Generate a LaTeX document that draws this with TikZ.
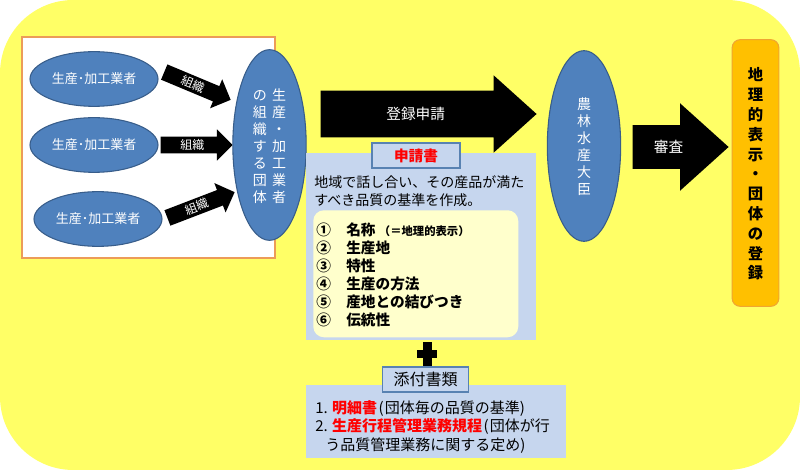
\documentclass[tikz,border=0pt]{standalone}
\usepackage{fontspec}
\setmainfont{Noto Sans CJK JP}
\usetikzlibrary{shapes.geometric,shapes.arrows}
\definecolor{backyellow}{RGB}{255,255,102}
\definecolor{framing}{RGB}{236,156,88}
\definecolor{ovalblue}{RGB}{79,129,189}
\definecolor{ovaledge}{RGB}{56,93,138}
\definecolor{paleblue}{RGB}{198,214,238}
\definecolor{labeledge}{RGB}{88,130,178}
\definecolor{paleyellow}{RGB}{255,255,204}
\definecolor{resultorange}{RGB}{255,192,0}
\definecolor{resultedge}{RGB}{240,165,50}
\newcommand{\shaft}[1]{\rule[\dimexpr 0.38em-#1/2\relax]{0pt}{#1}}
\newcommand{\lowered}[2]{\raisebox{-#1}[\height][\depth]{#2}}
\tikzset{
    oval/.style={ellipse, draw=ovaledge, thick, fill=ovalblue, text=white, inner sep=0pt, font=\fontsize{10.5}{12.75}\selectfont},
    maker/.style={oval, minimum width=96pt, minimum height=41pt, font=\fontsize{9.75}{12}\selectfont},
    tall/.style={oval, minimum width=55pt, minimum height=143pt},
    blockarrow/.style={single arrow, fill=black, text=white, inner sep=0pt, anchor=tip},
    smallarrow/.style={blockarrow, minimum height=54pt, single arrow head extend=5.6pt, single arrow tip angle=90, font=\fontsize{9}{11}\selectfont},
    panel/.style={rectangle, fill=paleblue, inner sep=0pt, anchor=north west},
    tagbox/.style={rectangle, draw=labeledge, thick, fill=paleblue, inner sep=0pt},
}

\begin{document}
\begin{tikzpicture}[x=0.75pt, y=-0.75pt]

    \useasboundingbox (0,0) rectangle (800,470);
    \fill[backyellow, rounded corners=55pt] (0,0) rectangle (800,470);

    % makers
    \draw[framing, thick, fill=white] (22,37) rectangle (275,258);
    \node[maker] (maker1) at (94,79) {生産･加工業者};
    \node[maker] (maker2) at (94,145) {生産･加工業者};
    \node[maker] (maker3) at (98,219) {生産･加工業者};

    \node[smallarrow, rotate=-22.7] (org1) at (231,100) {\shaft{12pt}組織};
    \node[smallarrow] (org2) at (233,145) {\shaft{12pt}組織};
    \node[smallarrow, rotate=21] (org3) at (235,192) {\shaft{12pt}組織};

    \node[tall] (group) at (269.5,145) {\lowered{2.25pt}{%
        \begin{tabular}{@{}c@{\hspace{4pt}}c@{}}
            の & 生\\ 組 & 産\\ 織 & ・\\ す & 加\\ る & 工\\ 団 & 業\\ 体 & 者
        \end{tabular}}};

    % application
    \node[blockarrow, minimum height=162pt, single arrow head extend=11.6pt, single arrow tip angle=84, font=\fontsize{11}{13}\selectfont] (apply) at (537,114) {\shaft{34.5pt}登録申請};

    \node[panel, minimum width=172.5pt, minimum height=140.25pt] (form) at (306,153) {};
    \node[tagbox, minimum width=66pt, minimum height=18.75pt, text=red, font=\bfseries\fontsize{11}{14}\selectfont] (formtag) at (416,155.5) {申請書};
    \node[anchor=north west, inner sep=0pt, align=left, font=\fontsize{10.5}{13.5}\selectfont] (formtext) at (314,175) {地域で話し合い、その産品が満た\\すべき品質の基準を作成。};
    \node[rectangle, rounded corners=8pt, fill=paleyellow, minimum width=153.75pt, minimum height=95.25pt, inner sep=0pt, anchor=north west] (items) at (313,210) {};
    \node[anchor=north west, inner sep=0pt, font=\bfseries\fontsize{11}{13.5}\selectfont] (itemlist) at (316,223) {%
        \begin{tabular}{@{}l@{\hspace{11.5pt}}l@{}}
            ① & 名称 {\fontsize{8.5}{10}\selectfont （＝地理的表示）}\\
            ② & 生産地\\
            ③ & 特性\\
            ④ & 生産の方法\\
            ⑤ & 産地との結びつき\\
            ⑥ & 伝統性
        \end{tabular}};

    % attachment
    \fill (417,350) rectangle (437,358);
    \fill (423,342) rectangle (432,366);
    \node[panel, minimum width=195pt, minimum height=54.75pt] (annex) at (306,385) {};
    \node[tagbox, minimum width=65pt, minimum height=18.75pt, font=\fontsize{12}{14}\selectfont] (annextag) at (425.5,379.5) {添付書類};
    \node[anchor=north west, inner sep=0pt, align=left, font=\fontsize{11.25}{14}\selectfont] (annextext) at (315,400) {1. {\bfseries\color{red}明細書}\kern1pt(\kern1pt団体毎の品質の基準)\\2. {\bfseries\color{red}生産行程管理業務規程}\kern1pt(\kern1pt団体が行\\\hspace*{7.5pt}う品質管理業務に関する定め)};

    % minister and result
    \node[tall] (minister) at (584,146) {\lowered{2.25pt}{%
        \begin{tabular}{@{}c@{}}
            農\\ 林\\ 水\\ 産\\ 大\\ 臣
        \end{tabular}}};
    \node[blockarrow, minimum height=72pt, single arrow head extend=16.5pt, single arrow tip angle=84, font=\fontsize{11}{13}\selectfont] (review) at (729,147) {\shaft{32.25pt}審査};
    \node[rectangle, rounded corners=6pt, draw=resultedge, thick, fill=resultorange, minimum width=35pt, minimum height=200pt, inner sep=0pt, font=\bfseries\fontsize{11.5}{14.85}\selectfont] (result) at (755.5,173) {\lowered{2.25pt}{%
        \begin{tabular}{@{}c@{}}
            地\\ 理\\ 的\\ 表\\ 示\\ ・\\ 団\\ 体\\ の\\ 登\\ 録
        \end{tabular}}};

\end{tikzpicture}
\end{document}
